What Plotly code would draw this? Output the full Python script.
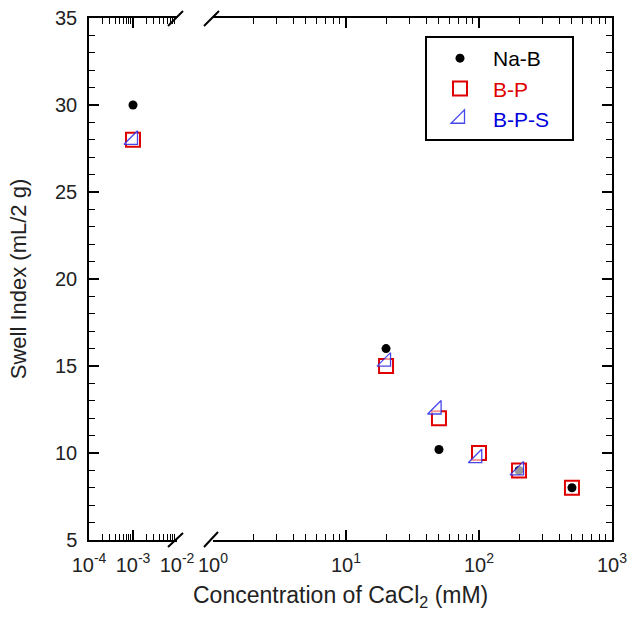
import plotly.graph_objects as go

# ---- data ----
nab_x = [0.001, 20, 50, 200, 500]
nab_y = [30, 16, 10.2, 9.0, 8]
bp_x = [0.001, 20, 50, 100, 200, 500]
bp_y = [28, 15, 12, 10, 9, 8]
bps_x = [0.001, 20, 48, 97, 200]
bps_y = [28, 15.25, 12.5, 9.7, 9.0]

seg1_major = [1e-4, 1e-3, 1e-2]
seg1_major_text = ["10<sup>-4</sup>", "10<sup>-3</sup>", "10<sup>-2</sup>"]
seg2_major = [1, 10, 100, 1000]
seg2_major_text = ["10<sup>0</sup>", "10<sup>1</sup>", "10<sup>2</sup>", "10<sup>3</sup>"]
seg1_minor = [k * d for d in [1e-4, 1e-3] for k in range(2, 10)]
seg2_minor = [k * d for d in [1, 10, 100] for k in range(2, 10)]

FONT = "Liberation Sans, Arial, sans-serif"
BREAK = 1e-2

series = [
    dict(name="Na-B", color="black", x=nab_x, y=nab_y,
         marker=dict(symbol="circle", size=9, color="black")),
    dict(name="B-P", color="#e00000", x=bp_x, y=bp_y,
         marker=dict(symbol="square-open", size=14, color="#e00000",
                     line=dict(width=2, color="#e00000"))),
    dict(name="B-P-S", color="#0000dd", x=bps_x, y=bps_y,
         marker=dict(symbol="triangle-se", size=15, color="rgba(255,255,255,0.6)",
                     line=dict(width=1.3, color="rgba(40,40,230,0.85)"))),
]

fig = go.Figure()
for s in series:
    lx = [x for x in s["x"] if x <= BREAK]
    ly = [y for x, y in zip(s["x"], s["y"]) if x <= BREAK]
    rx = [x for x in s["x"] if x > BREAK]
    ry = [y for x, y in zip(s["x"], s["y"]) if x > BREAK]
    label = f'<span style="color:{s["color"]}">{s["name"]}</span>&nbsp;&nbsp;&nbsp;'
    fig.add_trace(go.Scatter(x=lx, y=ly, mode="markers", name=label,
                             legendgroup=s["name"], marker=s["marker"],
                             xaxis="x", yaxis="y", showlegend=True))
    fig.add_trace(go.Scatter(x=rx, y=ry, mode="markers", name=label,
                             legendgroup=s["name"], marker=s["marker"],
                             xaxis="x2", yaxis="y2", showlegend=False))

axis_common = dict(showline=True, linecolor="black", linewidth=1.5,
                   ticks="inside", tickcolor="black", tickwidth=1.5,
                   showgrid=False, zeroline=False, automargin=False,
                   tickfont=dict(family=FONT, size=20, color="#222"))

d1 = (177 - 89) / 523
d2 = (213 - 89) / 523

fig.update_layout(
    width=630, height=619,
    margin=dict(l=89, r=18, t=18, b=79),
    paper_bgcolor="white", plot_bgcolor="white",
    font=dict(family=FONT, color="#222"),
    xaxis=dict(type="log", range=[-4, -2], domain=[0, d1], anchor="y",
               mirror="ticks", tickmode="array", tickvals=seg1_major,
               ticktext=seg1_major_text, ticklen=10, ticklabelstandoff=6,
               minor=dict(tickmode="array", tickvals=seg1_minor, ticks="inside",
                          ticklen=6, tickcolor="black", tickwidth=1.3, showgrid=False),
               **axis_common),
    xaxis2=dict(type="log", range=[0, 3], domain=[d2, 1], anchor="y2",
                mirror="ticks", tickmode="array", tickvals=seg2_major,
                ticktext=seg2_major_text, ticklen=10, ticklabelstandoff=6,
                minor=dict(tickmode="array", tickvals=seg2_minor, ticks="inside",
                           ticklen=6, tickcolor="black", tickwidth=1.3, showgrid=False),
                **axis_common),
    yaxis=dict(range=[5, 35], anchor="x", dtick=5, tick0=5, ticklen=10,
               ticklabelstandoff=6,
               minor=dict(dtick=1, ticks="inside", ticklen=6, tickcolor="black",
                          tickwidth=1.3, showgrid=False),
               title=dict(text="Swell Index (mL/2 g)", standoff=22,
                          font=dict(family=FONT, size=22, color="#222")),
               **axis_common),
    yaxis2=dict(range=[5, 35], anchor="x2", side="right", matches="y",
                dtick=5, tick0=5, ticklen=10, showticklabels=False,
                minor=dict(dtick=1, ticks="inside", ticklen=6, tickcolor="black",
                           tickwidth=1.3, showgrid=False),
                **axis_common),
    legend=dict(x=(425 - 89) / 523, y=(540 - 36) / 522, xanchor="left", yanchor="top",
                bordercolor="black", borderwidth=2, bgcolor="white",
                font=dict(family=FONT, size=21), itemwidth=56,
                tracegroupgap=0),
    annotations=[dict(text="Concentration of CaCl<sub>2</sub> (mM)", xref="paper", yref="paper",
                      x=(340 - 89) / 523, y=(540 - 596) / 522, xanchor="center", yanchor="middle",
                      showarrow=False, font=dict(family=FONT, size=23, color="#222"))],
)

# axis-break marks
breaks = [((168, 547), (183, 533)), ((204, 547), (218, 532)),
          ((168, 26), (183, 11)), ((204, 26), (219, 11))]
for (x0, y0), (x1, y1) in breaks:
    fig.add_shape(type="line", xref="paper", yref="paper",
                  x0=(x0 - 89) / 523, y0=(540 - y0) / 522,
                  x1=(x1 - 89) / 523, y1=(540 - y1) / 522,
                  line=dict(color="black", width=2))

fig.write_html("out.html")
